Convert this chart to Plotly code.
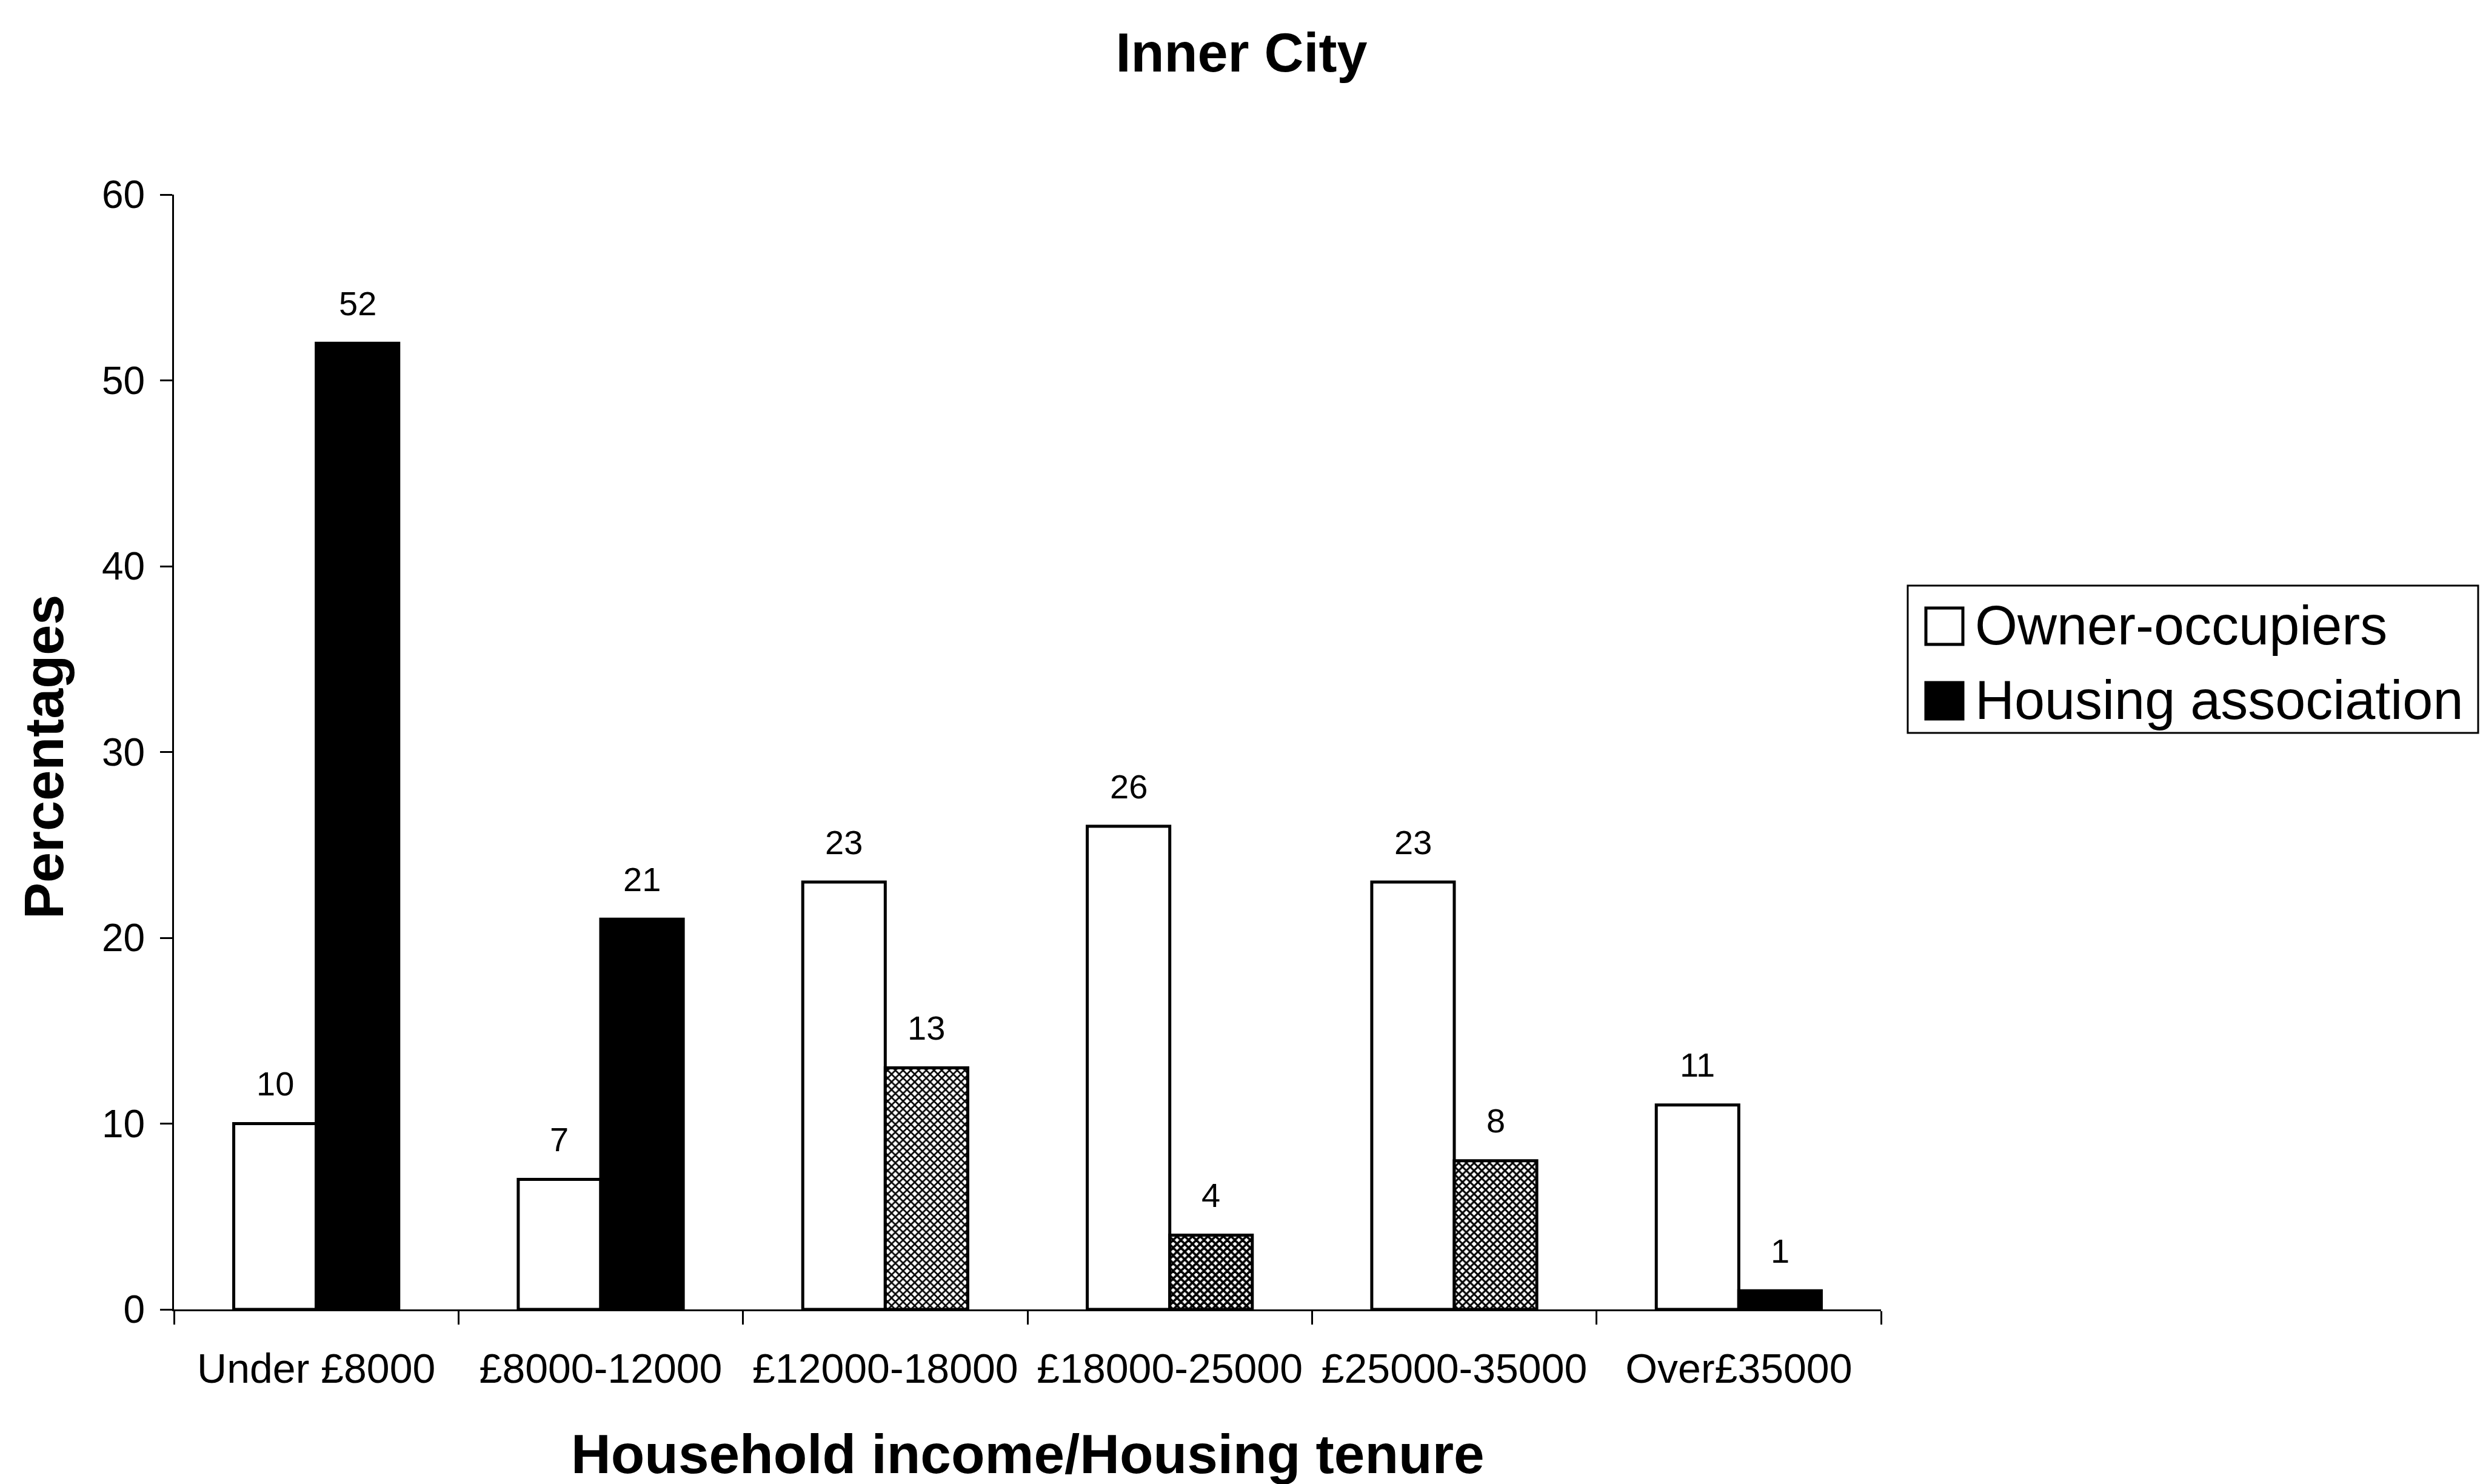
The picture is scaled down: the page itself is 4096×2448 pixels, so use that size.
import plotly.graph_objects as go

# Household income bands and tenure percentages
categories = ["Under £8000", "£8000-12000", "£12000-18000", "£18000-25000", "£25000-35000", "Over£35000"]
owner_occupiers = [10, 7, 23, 26, 23, 11]
housing_association = [52, 21, 13, 4, 8, 1]
y_ticks = [0, 10, 20, 30, 40, 50, 60]

W, H = 4096, 2448
M_L, M_R, M_T, M_B = 287, 993, 321, 288
PW, PH = W - M_L - M_R, H - M_T - M_B
FONT = "Liberation Sans, Arial, sans-serif"


def px(xp):
    return (xp - M_L) / PW


def py(yp):
    return (H - M_B - yp) / PH


# fill style of the housing association bars (solid or dithered grey)
ha_shapes = ["", "", "x", "x", "x", ""]
ha_solidity = [0.5, 0.5, 0.5, 0.65, 0.55, 0.5]

fig = go.Figure()
fig.add_trace(go.Bar(
    x=categories, y=owner_occupiers, name="Owner-occupiers",
    marker=dict(color="white", line=dict(color="black", width=5)),
    showlegend=False,
))
fig.add_trace(go.Bar(
    x=categories, y=housing_association, name="Housing association",
    marker=dict(
        color="black",
        line=dict(color="black", width=5),
        pattern=dict(shape=ha_shapes, fgcolor="black", bgcolor="white",
                     size=9, solidity=ha_solidity, fillmode="replace"),
    ),
    showlegend=False,
))

# value labels above the bars
bar_half = 0.29 * PW / len(categories) / 2
annotations = []
for cat, v in zip(categories, owner_occupiers):
    annotations.append(dict(x=cat, y=v, xref="x", yref="y", text=str(v),
                            xshift=-bar_half, yshift=66, showarrow=False,
                            xanchor="center", yanchor="middle",
                            font=dict(family=FONT, size=56, color="black")))
for cat, v in zip(categories, housing_association):
    annotations.append(dict(x=cat, y=v, xref="x", yref="y", text=str(v),
                            xshift=bar_half, yshift=66, showarrow=False,
                            xanchor="center", yanchor="middle",
                            font=dict(family=FONT, size=56, color="black")))

# axis titles
annotations.append(dict(x=px(73), y=py(1249), xref="paper", yref="paper",
                        text="<b>Percentages</b>", textangle=-90, showarrow=False,
                        xanchor="center", yanchor="middle",
                        font=dict(family=FONT, size=90, color="black")))
annotations.append(dict(x=px(1695), y=py(2398), xref="paper", yref="paper",
                        text="<b>Household income/Housing tenure</b>", showarrow=False,
                        xanchor="center", yanchor="middle",
                        font=dict(family=FONT, size=91, color="black")))

# legend: frame, swatches and labels
shapes = [
    dict(type="rect", xref="paper", yref="paper",
         x0=px(3147), x1=px(4088), y0=py(1209), y1=py(966),
         line=dict(color="black", width=3), fillcolor="white", layer="above"),
    dict(type="rect", xref="paper", yref="paper",
         x0=px(3177), x1=px(3238), y0=py(1063), y1=py(1003),
         line=dict(color="black", width=5), fillcolor="white", layer="above"),
    dict(type="rect", xref="paper", yref="paper",
         x0=px(3177), x1=px(3238), y0=py(1186), y1=py(1126),
         line=dict(color="black", width=5), fillcolor="black", layer="above"),
]
for label, yc in [("Owner-occupiers", 1032), ("Housing association", 1155)]:
    annotations.append(dict(x=px(3256), y=py(yc), xref="paper", yref="paper",
                            text=label, showarrow=False,
                            xanchor="left", yanchor="middle",
                            font=dict(family=FONT, size=90, color="black")))

fig.update_layout(
    width=W, height=H,
    margin=dict(l=M_L, r=M_R, t=M_T, b=M_B, pad=0),
    paper_bgcolor="white", plot_bgcolor="white",
    barmode="group", bargap=0.42, bargroupgap=0,
    title=dict(text="<b>Inner City</b>", x=0.5, xref="container", xanchor="center",
               y=1 - 86 / H, yref="container", yanchor="middle",
               font=dict(family=FONT, size=90, color="black")),
    annotations=annotations,
    shapes=shapes,
    showlegend=False,
)
fig.update_xaxes(
    type="category", tickson="boundaries", ticks="outside", ticklen=22, tickwidth=3,
    tickcolor="black", showline=True, linecolor="black", linewidth=3,
    showgrid=False, zeroline=False, ticklabelstandoff=36,
    tickfont=dict(family=FONT, size=68, color="black"),
)
fig.update_yaxes(
    range=[0, 60], tickvals=y_ticks, ticks="outside", ticklen=20, tickwidth=3,
    tickcolor="black", showline=True, linecolor="black", linewidth=3,
    showgrid=False, zeroline=False, ticklabelstandoff=12,
    tickfont=dict(family=FONT, size=64, color="black"),
)

fig.write_html("out.html")
